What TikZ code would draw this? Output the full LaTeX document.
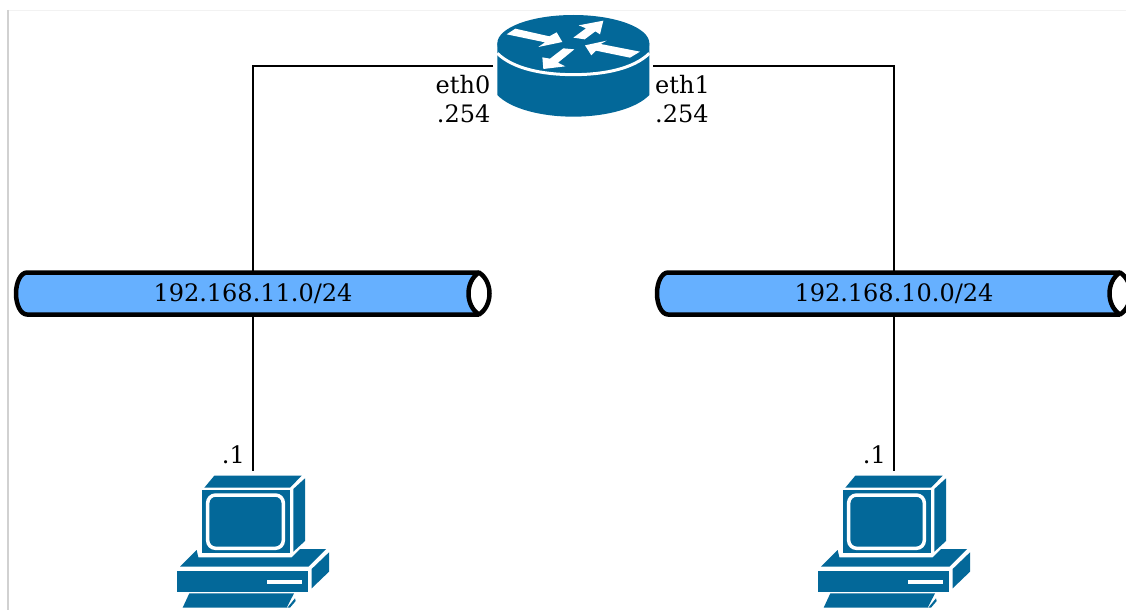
\documentclass[tikz,border=0pt]{standalone}
\usepackage{fontspec}
\setmainfont{DejaVu Serif}
\definecolor{ciscoblue}{HTML}{036899}
\definecolor{pipeblue}{HTML}{66B0FF}
\tikzset{
  link/.style={draw=black,line width=2pt},
  lbl/.style={font=\fontsize{24}{26}\selectfont,inner sep=0pt,text=black},
  netbox/.style={font=\fontsize{24}{26}\selectfont,inner sep=0pt,minimum width=474pt,minimum height=42pt,text=black},
  pipeline/.style={draw=black,line width=4.5pt,line join=round},
  devblue/.style={fill=ciscoblue,draw=none},
  wht/.style={fill=white,draw=none},
  pipe/.pic={
    \fill[pipeblue] (226,-21) -- (-226,-21) arc[start angle=270,end angle=90,x radius=11,y radius=21] -- (226,21) -- cycle;
    \draw[pipeline] (226,-21) -- (-226,-21) arc[start angle=270,end angle=90,x radius=11,y radius=21] -- (226,21);
    \draw[pipeline,fill=white] (226,-21) .. controls (240,-12) and (240,12) .. (226,21) .. controls (212,12) and (212,-12) .. cycle;
  },
  pc/.pic={
    \fill[devblue] (163,32) -- (425,32) -- (390,68) -- (133,68) -- cycle;
    \fill[devblue] (125,76) -- (390,76) -- (390,265) -- (125,265) -- cycle;
    \fill[devblue] (400,72) -- (435,40) -- (435,228) -- (400,260) -- cycle;
    \draw[white,line width=3.5pt,rounded corners=8pt] (143,90) rectangle (370,250);
    \fill[devblue] (110,255) -- (115,277) -- (395,277) -- (420,252) -- (498,252) -- (445,305) -- (60,305) -- cycle;
    \fill[devblue] (52,317) rectangle (445,380);
    \fill[wht] (322,345) rectangle (425,357);
    \fill[devblue] (455,312) -- (507,262) -- (507,320) -- (455,370) -- cycle;
    \fill[devblue] (88,385) -- (402,385) -- (380,428) -- (68,428) -- cycle;
    \fill[devblue] (405,400) -- (407,408) -- (390,428) -- (382,428) -- cycle;
  },
  routerpic/.pic={
    \fill[devblue] (52,130) -- (52,285) .. controls (90,325) and (180,350) .. (280,350) .. controls (380,350) and (470,325) .. (508,285) -- (508,130) -- cycle;
    \fill[devblue] (280,130) ellipse[x radius=228,y radius=85];
    \draw[white,line width=3pt] (52,160) .. controls (100,207) and (190,224) .. (280,224) .. controls (370,224) and (460,207) .. (508,160);
    \fill[wht] (80,103) -- (106,86) -- (208,109) -- (230,97) -- (247,126) -- (175,141) -- (195,127) -- cycle;
    \fill[wht] (280,113) -- (318,85) -- (296,76) -- (370,62) -- (360,103) -- (346,94) -- (314,118) -- cycle;
    \fill[wht] (480,155) -- (450,173) -- (348,152) -- (334,166) -- (315,136) -- (380,122) -- (362,132) -- cycle;
    \fill[wht] (250,145) -- (283,148) -- (234,188) -- (256,199) -- (190,207) -- (187,172) -- (210,176) -- cycle;
  },
}
\begin{document}
\begin{tikzpicture}[x=1pt,y=-1pt]
\useasboundingbox (0,0) rectangle (1126,610);
\clip (0,0) rectangle (1126,610);
\fill[white] (0,0) rectangle (1126,610);
\draw[color=black!5,line width=1pt] (8,10.5) -- (1126,10.5);
\draw[color=black!18,line width=2pt] (8,10) -- (8,610);

% devices
\pic[scale=0.33333] at (480,0) {routerpic};
\pic at (253,293.5) {pipe};
\pic at (894,293.5) {pipe};
\pic[scale=0.33333] at (160,465) {pc};
\pic[scale=0.33333] at (801,465) {pc};

\coordinate (r0) at (493,66);
\coordinate (r1) at (653,66);
\node[netbox] (net11) at (253,294) {192.168.11.0/24};
\node[netbox] (net10) at (894,294) {192.168.10.0/24};
\coordinate (pc1) at (253,471);
\coordinate (pc2) at (894,471);

\draw[link] (r0) -| (net11.north);
\draw[link] (r1) -| (net10.north);
\draw[link] (net11.south) -- (pc1);
\draw[link] (net10.south) -- (pc2);

\node[lbl,anchor=base east] (l0) at (490.5,93) {eth0};
\node[lbl,anchor=base east] (l1) at (490.5,122) {.254};
\node[lbl,anchor=base west] (l2) at (655,93) {eth1};
\node[lbl,anchor=base west] (l3) at (655,122) {.254};
\node[lbl,anchor=base east] (l4) at (245,463) {.1};
\node[lbl,anchor=base east] (l5) at (886,463) {.1};
\end{tikzpicture}
\end{document}
